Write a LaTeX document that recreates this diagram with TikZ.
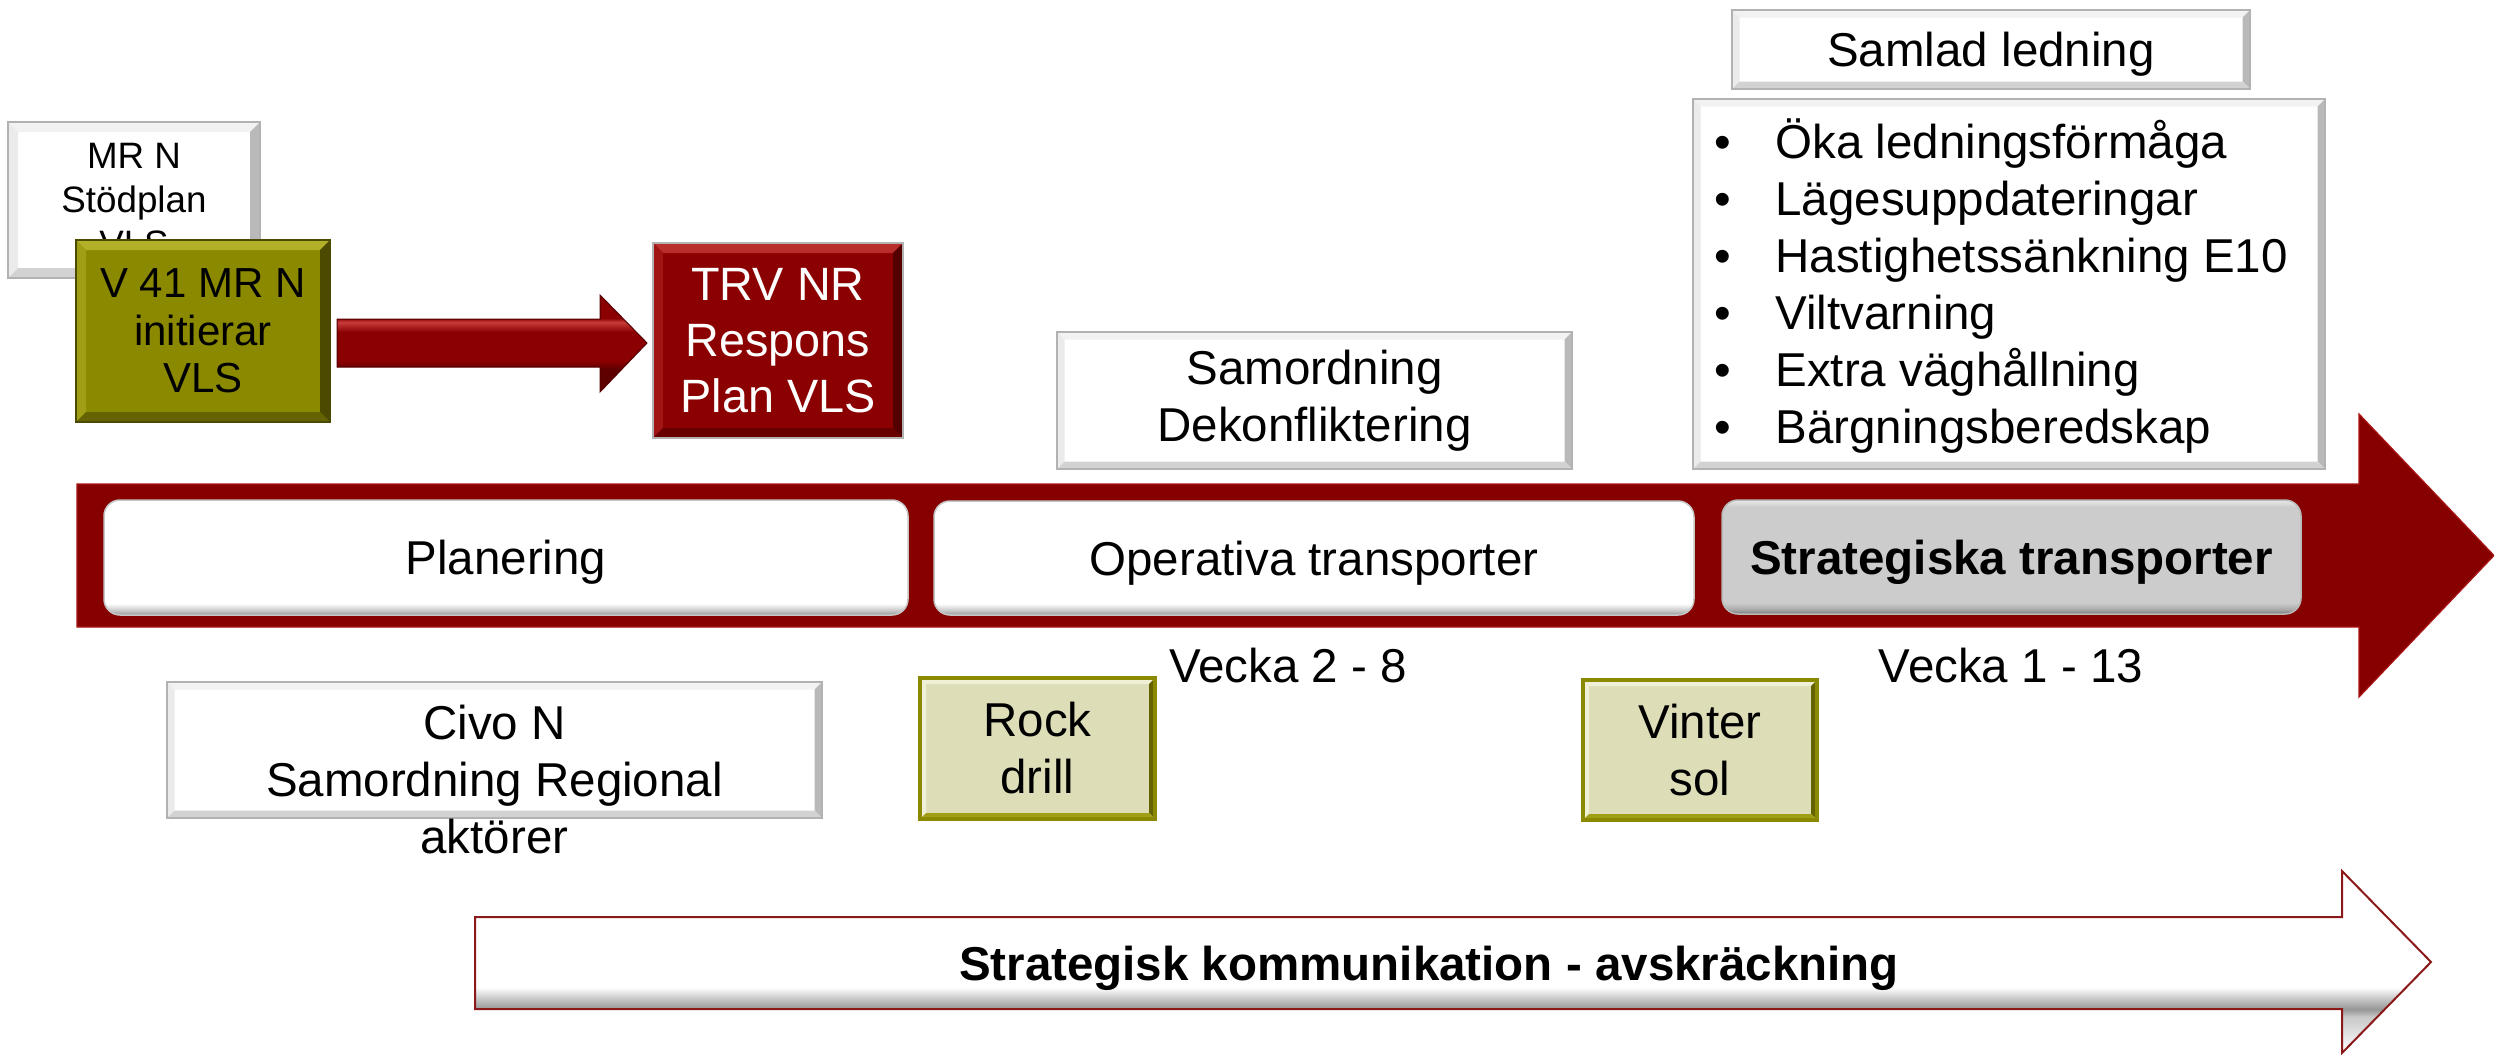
\documentclass[tikz,border=0pt]{standalone}
\usepackage{fontspec}
\setmainfont{Liberation Sans}
\usetikzlibrary{calc}
\definecolor{bandred}{RGB}{134,0,0}
\definecolor{bandedge}{RGB}{170,20,20}
\definecolor{trvred}{RGB}{139,0,0}
\definecolor{redlight}{RGB}{185,45,45}
\definecolor{redmid}{RGB}{160,20,20}
\definecolor{reddark}{RGB}{85,0,0}
\definecolor{reddark2}{RGB}{105,0,0}
\definecolor{rdark}{RGB}{95,0,0}
\definecolor{rbase}{RGB}{139,0,0}
\definecolor{rlight}{RGB}{200,60,60}
\definecolor{olivec}{RGB}{139,137,0}
\definecolor{olivelight}{RGB}{178,176,40}
\definecolor{olivemid}{RGB}{160,158,20}
\definecolor{olivedark}{RGB}{75,74,0}
\definecolor{olivedark2}{RGB}{100,99,0}
\definecolor{khaki}{RGB}{221,221,183}
\definecolor{khakilight}{RGB}{240,240,214}
\definecolor{stratgray}{RGB}{204,204,204}
\definecolor{stratdark}{RGB}{120,120,120}
\definecolor{stratmid}{RGB}{170,170,170}
\definecolor{stratlight}{RGB}{232,232,232}
\definecolor{pdark}{RGB}{150,150,150}
\definecolor{pmid}{RGB}{200,200,200}
\definecolor{arrline}{RGB}{140,25,25}
\pgfdeclareverticalshading{pill}{100bp}{color(0bp)=(pdark); color(25bp)=(pdark); color(27bp)=(pmid); color(30bp)=(white); color(100bp)=(white)}
\pgfdeclareverticalshading{pillgray}{100bp}{color(0bp)=(stratdark); color(25bp)=(stratdark); color(27bp)=(stratmid); color(30bp)=(stratgray); color(72bp)=(stratgray); color(75bp)=(stratlight); color(100bp)=(stratlight)}
\pgfdeclareverticalshading{redbar}{100bp}{color(0bp)=(rdark); color(37bp)=(rdark); color(41bp)=(rbase); color(56bp)=(rbase); color(61bp)=(rlight); color(63bp)=(rbase); color(100bp)=(rbase)}
\pgfdeclareverticalshading{botarrow}{100bp}{color(0bp)=(white); color(25bp)=(white); color(35bp)=(pmid); color(37bp)=(pdark); color(40bp)=(pmid); color(43bp)=(white); color(100bp)=(white)}
\tikzset{
  bevw/.store in=\bevw, bevw=4pt,
  bevel/.style n args={5}{fill=#1, path picture={
    \fill[#2] (path picture bounding box.north west) -- (path picture bounding box.north east)
      -- ([xshift=-\bevw,yshift=-\bevw]path picture bounding box.north east)
      -- ([xshift=\bevw,yshift=-\bevw]path picture bounding box.north west) -- cycle;
    \fill[#3] (path picture bounding box.north west) -- (path picture bounding box.south west)
      -- ([xshift=\bevw,yshift=\bevw]path picture bounding box.south west)
      -- ([xshift=\bevw,yshift=-\bevw]path picture bounding box.north west) -- cycle;
    \fill[#4] (path picture bounding box.north east) -- (path picture bounding box.south east)
      -- ([xshift=-\bevw,yshift=\bevw]path picture bounding box.south east)
      -- ([xshift=-\bevw,yshift=-\bevw]path picture bounding box.north east) -- cycle;
    \fill[#5] (path picture bounding box.south west) -- (path picture bounding box.south east)
      -- ([xshift=-\bevw,yshift=\bevw]path picture bounding box.south east)
      -- ([xshift=\bevw,yshift=\bevw]path picture bounding box.south west) -- cycle;
  }},
  fs/.style={font=\fontsize{19}{22.8}\selectfont},
  box/.style 2 args={minimum width=#1*0.4pt, minimum height=#2*0.4pt, inner sep=0pt, outer sep=0pt, align=center},
  oneline/.style={text height=13.6pt, text depth=0pt},
  whitebev/.style={bevel={white}{gray!10}{gray!16}{gray!55}{gray!35}, draw=gray!60, line width=0.8pt},
  olivebev/.style={bevel={olivec}{olivelight}{olivemid}{olivedark}{olivedark2}, draw=olivedark, line width=0.8pt},
  redbev/.style={bevel={trvred}{redlight}{redmid}{reddark}{reddark2}, draw=gray!60, line width=0.8pt},
  khakibev/.style={bevw=2.4pt, bevel={khaki}{khakilight}{khakilight}{olivedark2}{olivemid}, draw=olivec, line width=1.6pt},
  pillbox/.style={shading=pill, rounded corners=6.4pt, draw=gray!45, line width=0.6pt},
  stratbox/.style={shading=pillgray, rounded corners=6.4pt, draw=gray!55, line width=0.6pt},
  listtxt/.style={fs, anchor=base west, inner sep=0pt},
  bul/.style={fs, anchor=base, inner sep=0pt},
  lbl/.style={fs, anchor=base, inner sep=0pt},
}
\begin{document}
\begin{tikzpicture}[x=0.4pt,y=-0.4pt]
\useasboundingbox (0,0) rectangle (2494,1054);

% main timeline arrow
\fill[bandred, draw=bandedge, line width=0.5pt] (77,484) -- (2359,484) -- (2359,414) -- (2494,555.5) -- (2359,697) -- (2359,627) -- (77,627) -- cycle;

% top-left boxes
\node[box={252}{156}, whitebev, font=\fontsize{14.7}{17.6}\selectfont] (mrn) at (134,200) {MR N\\Stödplan\\VLS};
\node[box={254}{182}, olivebev, font=\fontsize{16.8}{18.9}\selectfont] (v41) at (203,331) {V 41 MR N\\initierar\\VLS};
\node[box={250}{195}, redbev, text=white, font=\fontsize{18.7}{22.4}\selectfont] (trv) at (778,340.5) {TRV NR\\Respons\\Plan VLS};

% fat arrow V41 -> TRV
\coordinate (arS) at ($(v41.east)+(7,12)$);
\coordinate (arE) at ($(trv.west)+(-6,2.5)$);
\shade[shading=redbar, draw=reddark, line width=0.4pt] ($(arS)+(0,-24)$) -- ($(arE)+(-47,-24)$) -- ($(arE)+(-47,-48)$) -- (arE) -- ($(arE)+(-47,49)$) -- ($(arE)+(-47,24)$) -- ($(arS)+(0,24)$) -- cycle;

% upper boxes
\node[box={515}{137}, whitebev, bevw=3pt, fs] (samord) at (1314.5,400.5) {Samordning\\Dekonfliktering};
\node[box={518}{79}, whitebev, bevw=3pt, fs, oneline] (samlad) at (1991,49.5) {Samlad ledning};
\node[box={632}{370}, whitebev, bevw=3pt] (list) at (2009,284) {};
\node[bul] (b1) at (1723,158) {\textbullet};
\node[listtxt] (l1) at (1775,158) {Öka ledningsförmåga};
\node[bul] (b2) at (1723,215) {\textbullet};
\node[listtxt] (l2) at (1775,215) {Lägesuppdateringar};
\node[bul] (b3) at (1723,272) {\textbullet};
\node[listtxt] (l3) at (1775,272) {Hastighetssänkning E10};
\node[bul] (b4) at (1723,329) {\textbullet};
\node[listtxt] (l4) at (1775,329) {Viltvarning};
\node[bul] (b5) at (1723,386) {\textbullet};
\node[listtxt] (l5) at (1775,386) {Extra väghållning};
\node[bul] (b6) at (1723,443) {\textbullet};
\node[listtxt] (l6) at (1775,443) {Bärgningsberedskap};

% phase boxes on the band
\node[box={804}{115}, pillbox, fs, oneline] (plan) at (506,557.5) {Planering};
\node[box={760}{114}, pillbox, fs, oneline] (oper) at (1314,558) {Operativa transporter};
\node[box={579}{114}, stratbox, fs, oneline, font=\fontsize{19}{22.8}\selectfont\bfseries] (strat) at (2011.5,557) {Strategiska transporter};

% week labels
\node[lbl] (v28) at (1288,682) {Vecka 2 - 8};
\node[lbl] (v113) at (2011,682) {Vecka 1 - 13};

% lower boxes
\node[box={235}{141}, khakibev, fs] (rock) at (1037.5,748.5) {Rock\\drill};
\node[box={234}{140}, khakibev, fs] (vinter) at (1700,750) {Vinter\\sol};
\node[box={655}{136}, whitebev, bevw=3pt] (civo) at (494.5,750) {};
\node[fs, align=center, inner sep=0pt] (civotxt) at (494.5,780) {Civo N\\Samordning Regional\\aktörer};

% bottom arrow
\shade[shading=botarrow, draw=arrline, line width=0.8pt] (475,917) -- (2342,917) -- (2342,871) -- (2431,962) -- (2342,1053) -- (2342,1009) -- (475,1009) -- cycle;
\node[lbl, font=\fontsize{19}{22.8}\selectfont\bfseries] (komm) at (1429,980) {Strategisk kommunikation - avskräckning};
\end{tikzpicture}
\end{document}
